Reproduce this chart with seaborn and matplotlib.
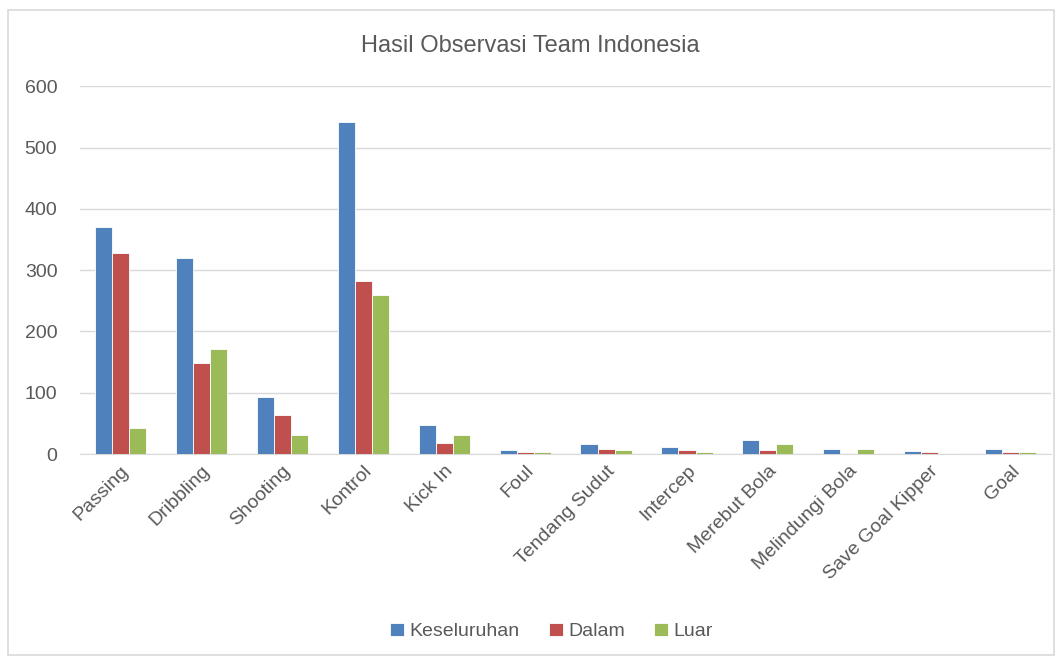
import matplotlib
matplotlib.use('Agg')
from matplotlib import pyplot as plt
from matplotlib.patches import Rectangle
import pandas as pd
import seaborn as sns

# data
categories = ['Passing', 'Dribbling', 'Shooting', 'Kontrol', 'Kick In', 'Foul',
              'Tendang Sudut', 'Intercep', 'Merebut Bola', 'Melindungi Bola',
              'Save Goal Kipper', 'Goal']
keseluruhan = [370, 320, 93, 541, 47, 6, 16, 12, 23, 8, 5, 8]
dalam = [328, 148, 64, 282, 18, 3, 8, 6, 6, 0, 3, 3]
luar = [42, 171, 31, 259, 31, 4, 7, 4, 16, 8, 2, 4]
series_names = ['Keseluruhan', 'Dalam', 'Luar']
colors = ['#4F81BD', '#C0504D', '#9BBB59']

df = pd.DataFrame({'Kategori': categories,
                   'Keseluruhan': keseluruhan,
                   'Dalam': dalam,
                   'Luar': luar})
df_long = df.melt(id_vars='Kategori', var_name='Seri', value_name='Nilai')

sns.set_style('white')
plt.rcParams['font.family'] = ['Liberation Sans', 'DejaVu Sans']

fig = plt.figure(figsize=(10.61, 6.58), dpi=100)
ax = fig.add_axes([0.075, 0.31, 0.916, 0.559])

sns.barplot(data=df_long, x='Kategori', y='Nilai', hue='Seri',
            hue_order=series_names, palette=colors, width=0.63,
            edgecolor='white', linewidth=0.6, saturation=1, ax=ax)

ax.set_ylim(0, 600)
ax.set_yticks(range(0, 601, 100))
ax.yaxis.grid(True, color='#d9d9d9', linewidth=1)
ax.set_axisbelow(True)
for side in ['top', 'right', 'left']:
    ax.spines[side].set_visible(False)
ax.spines['bottom'].set_color('#d9d9d9')
ax.spines['bottom'].set_zorder(0)
ax.set_xlabel('')
ax.set_ylabel('')
ax.tick_params(axis='both', length=0, labelsize=14, colors='#595959')
ax.tick_params(axis='x', pad=6)
ax.tick_params(axis='y', pad=16)
for label in ax.get_xticklabels():
    label.set_rotation(45)
    label.set_ha('right')
    label.set_rotation_mode('anchor')

fig.suptitle('Hasil Observasi Team Indonesia', y=0.947, fontsize=17, color='#595959')

handles, labels = ax.get_legend_handles_labels()
ax.legend_.remove()
fig.legend(handles, labels, loc='center', bbox_to_anchor=(0.52, 0.04), ncol=3,
           frameon=False, fontsize=14, handlelength=0.7, handleheight=0.7,
           handletextpad=0.3, columnspacing=1.5, labelcolor='#595959')

# light chart border
fig.patches.append(Rectangle((0.008, 0.005), 0.985, 0.98, transform=fig.transFigure,
                             fill=False, edgecolor='#d9d9d9', linewidth=1.2))

fig.savefig('out.png', dpi=100)
